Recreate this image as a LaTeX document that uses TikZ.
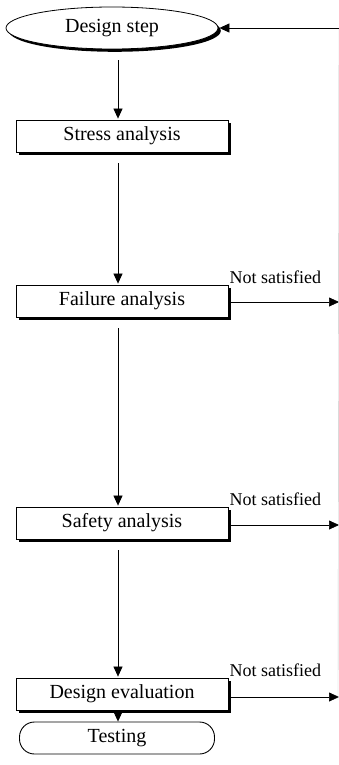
\documentclass[tikz,border=0pt]{standalone}
\usepackage{fontspec}
\setmainfont{Liberation Serif}
\usetikzlibrary{shapes.geometric,arrows.meta,shadows,calc}
\begin{document}
\begin{tikzpicture}[x=1pt,y=-1pt,
  shad/.style={drop shadow={shadow xshift=2.8pt,shadow yshift=-2.8pt,fill=black,opacity=1}},
  procbox/.style={draw,line width=0.8pt,fill=white,shad,minimum width=212pt,minimum height=32pt,inner sep=0pt,font=\fontsize{20}{21}\selectfont},
  startnode/.style={draw,ellipse,line width=0.8pt,fill=white,shad,minimum width=212pt,minimum height=42pt,inner sep=0pt,font=\fontsize{20}{21}\selectfont},
  endnode/.style={draw,rounded corners=15pt,line width=0.9pt,fill=white,minimum width=195pt,minimum height=32pt,inner sep=0pt,font=\fontsize{20}{21}\selectfont},
  flow/.style={line width=0.7pt,-{Triangle[width=9pt,length=10pt]}},
  lbl/.style={font=\fontsize{18}{19}\selectfont,inner sep=1pt,anchor=south west}]
\useasboundingbox (0,0) rectangle (339,765);

\node[startnode] (design) at (112,28) {Design step};
\node[procbox] (stress) at (122,136) {Stress analysis};
\node[procbox] (failure) at (122,301) {Failure analysis};
\node[procbox] (safety) at (122,523) {Safety analysis};
\node[procbox] (evaluation) at (122,694) {Design evaluation};
\node[endnode] (testing) at (117,738) {Testing};

\coordinate (spine) at (118,0);
\coordinate (fbtop) at (339,28);
\coordinate (fbbottom) at (338,700);
\coordinate (out1) at (339,302);
\coordinate (out2) at (339,525);
\coordinate (out3) at (339,697);

% main flow
\draw[flow,shorten <=11pt,shorten >=1pt] (design.south -| spine) -- (stress.north -| spine);
\draw[flow,shorten <=11pt,shorten >=1pt] (stress.south -| spine) -- (failure.north -| spine);
\draw[flow,shorten <=11pt,shorten >=1pt] (failure.south -| spine) -- (safety.north -| spine);
\draw[flow,shorten <=11pt,shorten >=1pt] (safety.south -| spine) -- (evaluation.north -| spine);
\draw[flow,shorten <=5pt] (evaluation.south -| spine) -- (testing.north -| spine);

% exits
\draw[flow] (failure.east |- out1) -- (out1);
\draw[flow] (safety.east |- out2) -- (out2);
\draw[flow] (evaluation.east |- out3) -- (out3);
\node[lbl] at (failure.north east) {Not satisfied};
\node[lbl] at (safety.north east) {Not satisfied};
\node[lbl] at (evaluation.north east) {Not satisfied};

% feedback
\draw[gray!45,line width=0.4pt] (fbtop) -- (fbbottom);
\draw[flow,shorten >=1pt] (fbtop) -- (design.east);
\end{tikzpicture}
\end{document}
